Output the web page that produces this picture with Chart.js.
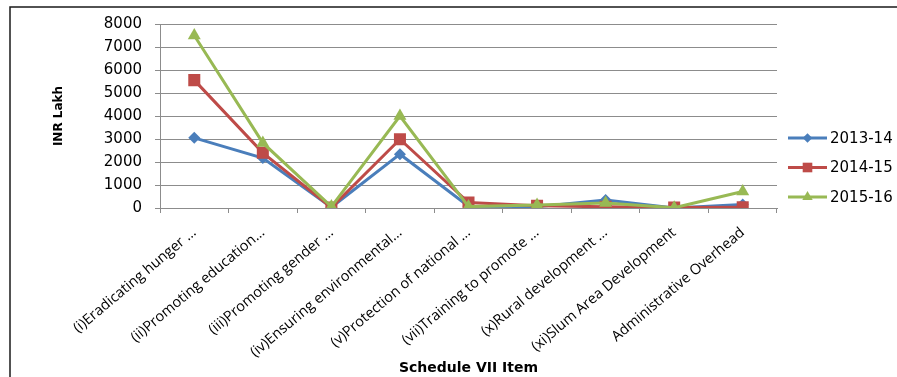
<!DOCTYPE html>
<html>
<head>
<meta charset="utf-8">
<script src="https://cdn.jsdelivr.net/npm/chart.js@4/dist/chart.umd.min.js"></script>
<style>
  html, body { margin: 0; padding: 0; background: #fff; }
  #wrap { width: 897px; height: 377px; }
</style>
</head>
<body>
<div id="wrap"><canvas id="c" width="897" height="377"></canvas></div>
<script>
// Schedule VII items (x axis categories)
const categories = [
  "(i)Eradicating hunger \u2026",
  "(ii)Promoting education\u2026",
  "(iii)Promoting gender \u2026",
  "(iv)Ensuring environmental\u2026",
  "(v)Protection of national \u2026",
  "(vii)Training to promote \u2026",
  "(x)Rural development \u2026",
  "(xi)Slum Area Development",
  "Administrative Overhead"
];

// CSR spend per item, INR Lakh
const years = ["2013-14", "2014-15", "2015-16"];
const spend2013 = [3050, 2170, 30, 2340, 80, 60, 350, 0, 150];
const spend2014 = [5560, 2400, 20, 2990, 240, 100, 50, 20, 30];
const spend2015 = [7500, 2830, 60, 4000, 60, 130, 220, 10, 720];

// Value axis ticks
const yTicks = [0, 1000, 2000, 3000, 4000, 5000, 6000, 7000, 8000];

const colors = ["#4A7EBB", "#BE4B48", "#98B954"];
const markers = ["rectRot", "rect", "triangle"];
const markerRadius = [6, 8.5, 7.5];

const seriesValues = [spend2013, spend2014, spend2015];

const datasets = years.map((y, i) => ({
  label: y,
  data: seriesValues[i],
  borderColor: colors[i],
  backgroundColor: colors[i],
  borderWidth: 3,
  pointStyle: markers[i],
  pointRadius: markerRadius[i],
  pointHoverRadius: markerRadius[i],
  pointBorderWidth: 0,
  tension: 0,
  order: 3 - i
}));

// White page background and the outer frame of the chart object
const framePlugin = {
  id: 'frame',
  beforeDraw(chart) {
    const ctx = chart.ctx;
    ctx.save();
    ctx.fillStyle = '#fff';
    ctx.fillRect(0, 0, chart.width, chart.height);
    ctx.strokeStyle = '#1a1a1a';
    ctx.lineWidth = 1.5;
    ctx.beginPath();
    ctx.moveTo(10, chart.height);
    ctx.lineTo(10, 7);
    ctx.lineTo(chart.width, 7);
    ctx.stroke();
    ctx.restore();
  }
};

// Legend on the right: line segment with the series marker, then the label
const lineLegendPlugin = {
  id: 'lineLegend',
  afterDraw(chart) {
    const ctx = chart.ctx;
    const area = chart.chartArea;
    const x0 = area.right + 11;
    const len = 39;
    const startY = area.top + 114;
    const gap = 29.5;
    ctx.save();
    chart.data.datasets.forEach((ds, i) => {
      const y = startY + i * gap;
      ctx.strokeStyle = ds.borderColor;
      ctx.lineWidth = 3;
      ctx.beginPath();
      ctx.moveTo(x0, y);
      ctx.lineTo(x0 + len, y);
      ctx.stroke();
      ctx.fillStyle = ds.backgroundColor;
      ctx.lineWidth = 0;
      Chart.helpers.drawPoint(ctx, {
        pointStyle: ds.pointStyle,
        radius: ds.pointRadius * 0.8,
        rotation: 0,
        borderWidth: 0
      }, x0 + len / 2, y);
      ctx.fillStyle = '#000';
      ctx.font = '15px "DejaVu Sans"';
      ctx.textBaseline = 'middle';
      ctx.textAlign = 'left';
      ctx.fillText(ds.label, x0 + len + 3, y + 1);
    });
    ctx.restore();
  }
};

new Chart(document.getElementById('c'), {
  type: 'line',
  data: { labels: categories, datasets },
  plugins: [framePlugin, lineLegendPlugin],
  options: {
    responsive: false,
    animation: false,
    events: [],
    layout: { padding: { left: 10, top: 24, right: 120, bottom: 0 } },
    plugins: {
      legend: { display: false },
      tooltip: { enabled: false }
    },
    scales: {
      x: {
        type: 'category',
        offset: true,
        grid: {
          offset: true,
          drawOnChartArea: false,
          drawTicks: true,
          tickLength: 5,
          color: '#8c8c8c'
        },
        border: { display: true, color: '#8c8c8c', width: 1 },
        ticks: {
          minRotation: 40,
          maxRotation: 40,
          autoSkip: false,
          padding: 11,
          color: '#000',
          font: { family: 'Open Sans', size: 14.5 }
        },
        title: {
          display: true,
          text: 'Schedule VII Item',
          color: '#000',
          font: { family: 'DejaVu Sans', size: 14, weight: 'bold' },
          padding: { top: 0, bottom: 0 }
        },
        afterFit(scale) { scale.height = 169; }
      },
      y: {
        min: 0,
        max: 8000,
        afterBuildTicks(scale) { scale.ticks = yTicks.map(v => ({ value: v })); },
        grid: {
          color: '#8c8c8c',
          drawTicks: true,
          tickLength: 5
        },
        border: { display: true, color: '#8c8c8c', width: 1 },
        ticks: {
          padding: 13,
          color: '#000',
          font: { family: 'DejaVu Sans', size: 15 },
          callback: (v) => String(v)
        },
        title: {
          display: true,
          text: 'INR Lakh',
          color: '#000',
          font: { family: 'DejaVu Sans', size: 12, weight: 'bold' },
          padding: { top: 42, bottom: 0 }
        },
        afterFit(scale) { scale.width = 150; }
      }
    }
  }
});
</script>
</body>
</html>
